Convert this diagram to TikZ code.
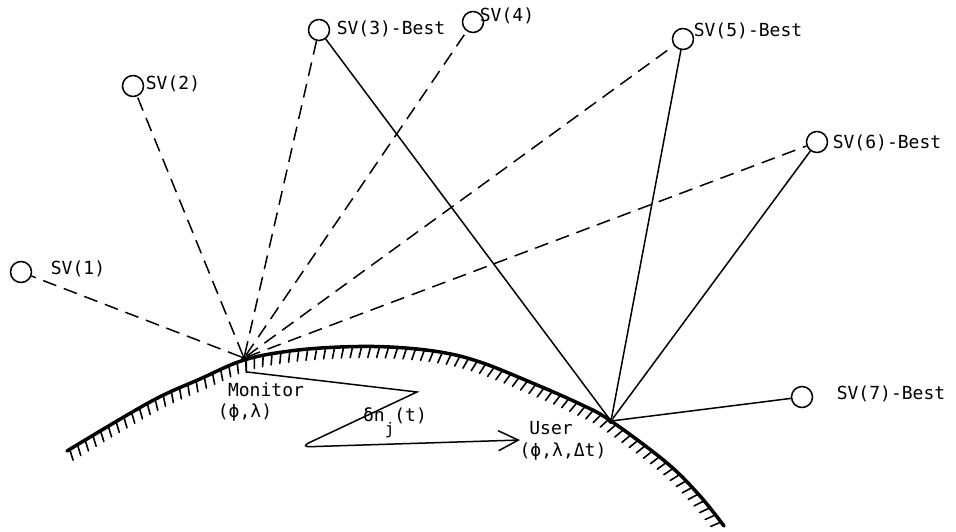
\documentclass[tikz,border=0pt]{standalone}
\usepackage{fontspec}
\setmonofont{DejaVu Sans Mono}
\usetikzlibrary{decorations.markings,arrows.meta}
\begin{document}
\begin{tikzpicture}[x=1pt,y=-1pt,
  sat/.style={circle,draw,line width=1.5pt,minimum size=21pt,inner sep=0pt},
  lbl/.style={font=\ttfamily\fontsize{18}{20}\selectfont,inner sep=0pt},
  dsh/.style={line width=1.5pt,dash pattern=on 14pt off 8pt},
  sol/.style={line width=1.5pt},
  gpt/.style={circle,fill,inner sep=0pt,minimum size=6pt},
  earth/.style={line width=3.5pt,line cap=round,postaction={decorate},
    decoration={markings,mark=between positions 0.004 and 0.998 step 9pt with
      {\draw[line width=1.6pt,line cap=round] (0pt,-1pt) -- (-2.5pt,-11pt);}}},
  corr/.style={line width=1.5pt}
]
\useasboundingbox (0,0) rectangle (956,531);

% Earth surface
\draw[earth] plot[smooth,tension=0.6] coordinates {(67,451) (150,402) (200,379) (244,360) (290,351) (340,347) (390,347) (440,352) (480,362) (530,382) (580,404) (611,421) (667,463) (700,496) (724,526)};

% ground points
\node[gpt] (mon) at (244,358) {};
\node[gpt] (usr) at (611,421) {};

% satellites
\node[sat] (sv1) at (21,272) {};
\node[sat] (sv2) at (133,86) {};
\node[sat] (sv3) at (319,30) {};
\node[sat] (sv4) at (473,22) {};
\node[sat] (sv5) at (683,39) {};
\node[sat] (sv6) at (817,142) {};
\node[sat] (sv7) at (802,397) {};

% labels
\node[lbl] (l1) at (78,269) {SV(1)};
\node[lbl] (l2) at (173,84) {SV(2)};
\node[lbl] (l3) at (391,29) {SV(3)-Best};
\node[lbl] (l4) at (507,16) {SV(4)};
\node[lbl] (l5) at (748,31) {SV(5)-Best};
\node[lbl] (l6) at (887,143) {SV(6)-Best};
\node[lbl] (l7) at (891,394) {SV(7)-Best};
\node[lbl] (lm) at (266,390) {Monitor};
\node[lbl] (lmc) at (245,413) {(ϕ,λ)};
\node[lbl] (lu) at (551,428) {User};
\node[lbl] (luc) at (563,452) {(ϕ,λ,Δt)};
\node[lbl] (ld) at (395,423) {δn\raisebox{-1.3ex}{\fontsize{16}{16}\selectfont j}(t)};

% monitor lines (dashed)
\draw[dsh] (mon) -- (sv1);
\draw[dsh] (mon) -- (sv2);
\draw[dsh] (mon) -- (sv3);
\draw[dsh] (mon) -- (sv4);
\draw[dsh] (mon) -- (sv5);
\draw[dsh] (mon) -- (sv6);

% user lines (solid)
\draw[sol] (usr) -- (sv3);
\draw[sol] (usr) -- (sv5);
\draw[sol] (usr) -- (sv6);
\draw[sol] (usr) -- (sv7);

% correction path
\coordinate (c1) at (247,372);
\coordinate (c2) at (417,392);
\coordinate (c3) at (300,447);
\coordinate (tip) at (520,440);
\draw[corr,-{Straight Barb[length=20pt,width=20pt,line width=1.5pt]}]
  (mon.south east) |- (c1) -- (c2) [rounded corners=10pt] -- (c3) -- (tip);
\end{tikzpicture}
\end{document}
